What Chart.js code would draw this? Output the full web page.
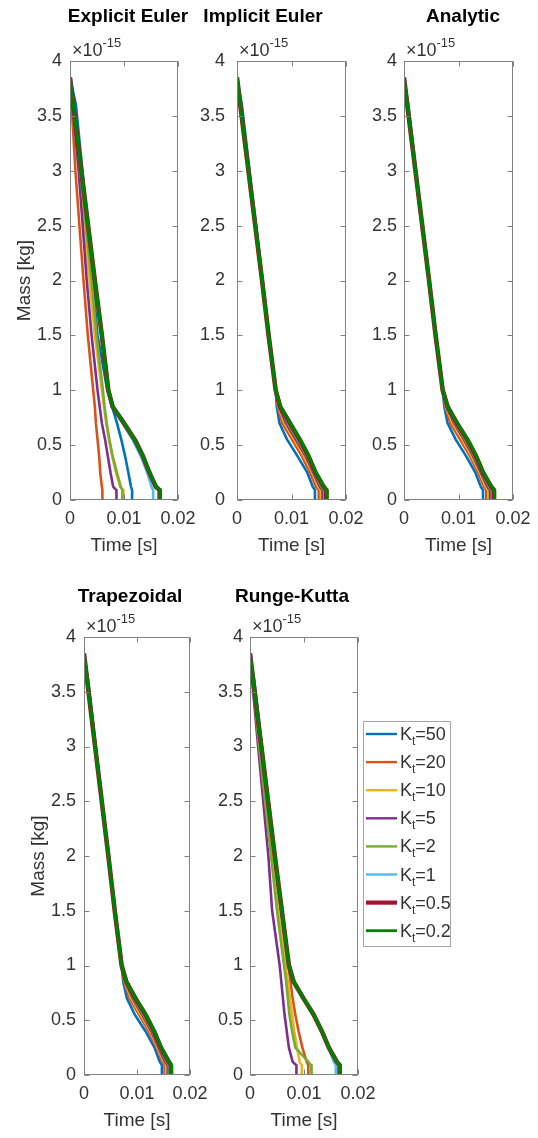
<!DOCTYPE html>
<html>
<head>
<meta charset="utf-8">
<script src="https://cdn.jsdelivr.net/npm/chart.js@4.4.1/dist/chart.umd.min.js"></script>
<style>
  html, body { margin: 0; padding: 0; background: #fff; overflow: hidden; }
  #fig { position: relative; width: 538px; height: 1138px; }
  #fig canvas { position: absolute; }
</style>
</head>
<body>
<div id="fig"></div>
<script>
/* ---------------- DATA ---------------- */
const panelTitles = ["Explicit Euler", "Implicit Euler", "Analytic", "Trapezoidal", "Runge-Kutta"];
const ktLabels    = ["50", "20", "10", "5", "2", "1", "0.5", "0.2"];
const xTicks      = [0, 0.01, 0.02];
const yTicks      = [0, 0.5, 1, 1.5, 2, 2.5, 3, 3.5, 4];

// mass levels (x1e-15 kg) at which the time of each curve is read
const massLevels = [3.85, 3.6, 3.0, 2.0, 1.5, 1.0, 0.85, 0.7, 0.55, 0.4, 0.25, 0.12, 0.09, 0];

// time [s] for each Kt curve, order: 50, 20, 10, 5, 2, 1, 0.5, 0.2
const explicitEulerT = [
  [0, 0.0011, 0.0023, 0.0042, 0.0051, 0.0069, 0.0078, 0.0087, 0.0095, 0.0102, 0.0108, 0.0113, 0.0115, 0.0115],
  [0, 0.0003, 0.0010, 0.0025, 0.0033, 0.0043, 0.0046, 0.0048, 0.0051, 0.0054, 0.0056, 0.0059, 0.0060, 0.0060],
  [0, 0.0005, 0.0017, 0.0036, 0.0046, 0.0059, 0.0063, 0.0067, 0.0072, 0.0078, 0.0085, 0.0093, 0.0099, 0.0099],
  [0, 0.0005, 0.0016, 0.0031, 0.0040, 0.0051, 0.0055, 0.0059, 0.0065, 0.0070, 0.0075, 0.0080, 0.0086, 0.0086],
  [0, 0.0006, 0.0019, 0.0040, 0.0049, 0.0061, 0.0064, 0.0068, 0.0073, 0.0079, 0.0087, 0.0094, 0.0097, 0.0097],
  [0, 0.0006, 0.0021, 0.0046, 0.0059, 0.0071, 0.0079, 0.0097, 0.0116, 0.0131, 0.0143, 0.0151, 0.0154, 0.0154],
  [0, 0.0006, 0.0021, 0.0046, 0.0059, 0.0071, 0.0079, 0.0100, 0.0120, 0.0135, 0.0147, 0.0159, 0.0166, 0.0166],
  [0, 0.0006, 0.0021, 0.0046, 0.0059, 0.0071, 0.0079, 0.0100, 0.0120, 0.0135, 0.0147, 0.0160, 0.0167, 0.0167]
];
const implicitEulerT = [
  [0, 0.0009, 0.0023, 0.0047, 0.0059, 0.0071, 0.0073, 0.0078, 0.0092, 0.0111, 0.0129, 0.0139, 0.0143, 0.0143],
  [0, 0.0007, 0.0022, 0.0046, 0.0058, 0.0071, 0.0075, 0.0083, 0.0101, 0.0119, 0.0134, 0.0145, 0.0150, 0.0150],
  [0, 0.0006, 0.0021, 0.0046, 0.0058, 0.0071, 0.0076, 0.0087, 0.0105, 0.0123, 0.0138, 0.0149, 0.0154, 0.0154],
  [0, 0.0006, 0.0021, 0.0046, 0.0058, 0.0071, 0.0077, 0.0090, 0.0108, 0.0126, 0.0140, 0.0152, 0.0157, 0.0157],
  [0, 0.0006, 0.0021, 0.0046, 0.0058, 0.0071, 0.0078, 0.0093, 0.0111, 0.0128, 0.0142, 0.0155, 0.0160, 0.0160],
  [0, 0.0006, 0.0021, 0.0046, 0.0058, 0.0071, 0.0079, 0.0095, 0.0113, 0.0130, 0.0143, 0.0157, 0.0162, 0.0162],
  [0, 0.0006, 0.0021, 0.0046, 0.0058, 0.0071, 0.0079, 0.0097, 0.0115, 0.0131, 0.0144, 0.0159, 0.0164, 0.0164],
  [0, 0.0006, 0.0021, 0.0046, 0.0058, 0.0071, 0.0080, 0.0098, 0.0116, 0.0132, 0.0145, 0.0160, 0.0165, 0.0165]
];
const analyticT = [
  [0, 0.0008, 0.0022, 0.0046, 0.0058, 0.0071, 0.0074, 0.0080, 0.0095, 0.0114, 0.0131, 0.0141, 0.0145, 0.0145],
  [0, 0.0007, 0.0021, 0.0046, 0.0058, 0.0071, 0.0076, 0.0085, 0.0103, 0.0121, 0.0136, 0.0147, 0.0151, 0.0151],
  [0, 0.0006, 0.0021, 0.0046, 0.0058, 0.0071, 0.0077, 0.0089, 0.0107, 0.0124, 0.0139, 0.0150, 0.0155, 0.0155],
  [0, 0.0006, 0.0021, 0.0046, 0.0058, 0.0071, 0.0078, 0.0092, 0.0110, 0.0127, 0.0141, 0.0153, 0.0158, 0.0158],
  [0, 0.0006, 0.0021, 0.0046, 0.0058, 0.0071, 0.0079, 0.0094, 0.0112, 0.0129, 0.0143, 0.0156, 0.0161, 0.0161],
  [0, 0.0006, 0.0021, 0.0046, 0.0058, 0.0071, 0.0079, 0.0096, 0.0114, 0.0131, 0.0144, 0.0158, 0.0163, 0.0163],
  [0, 0.0006, 0.0021, 0.0046, 0.0058, 0.0071, 0.0080, 0.0097, 0.0116, 0.0132, 0.0145, 0.0160, 0.0165, 0.0165],
  [0, 0.0006, 0.0021, 0.0046, 0.0058, 0.0071, 0.0080, 0.0098, 0.0117, 0.0133, 0.0146, 0.0161, 0.0166, 0.0166]
];
const trapezoidalT = [
  [0, 0.0008, 0.0022, 0.0046, 0.0058, 0.0071, 0.0074, 0.0081, 0.0096, 0.0116, 0.0133, 0.0143, 0.0147, 0.0147],
  [0, 0.0007, 0.0021, 0.0046, 0.0058, 0.0071, 0.0076, 0.0086, 0.0104, 0.0122, 0.0137, 0.0148, 0.0152, 0.0152],
  [0, 0.0006, 0.0021, 0.0046, 0.0058, 0.0071, 0.0077, 0.0089, 0.0107, 0.0125, 0.0139, 0.0151, 0.0155, 0.0155],
  [0, 0.0006, 0.0021, 0.0046, 0.0058, 0.0071, 0.0078, 0.0092, 0.0110, 0.0127, 0.0141, 0.0153, 0.0158, 0.0158],
  [0, 0.0006, 0.0021, 0.0046, 0.0058, 0.0071, 0.0079, 0.0094, 0.0112, 0.0129, 0.0143, 0.0156, 0.0160, 0.0160],
  [0, 0.0006, 0.0021, 0.0046, 0.0058, 0.0071, 0.0079, 0.0096, 0.0114, 0.0131, 0.0144, 0.0158, 0.0162, 0.0162],
  [0, 0.0006, 0.0021, 0.0046, 0.0058, 0.0071, 0.0080, 0.0097, 0.0116, 0.0132, 0.0145, 0.0160, 0.0164, 0.0164],
  [0, 0.0006, 0.0021, 0.0046, 0.0058, 0.0071, 0.0080, 0.0098, 0.0117, 0.0133, 0.0146, 0.0161, 0.0165, 0.0165]
];
const rungeKuttaT = [
  [0, 0.0008, 0.0022, 0.0046, 0.0059, 0.0072, 0.0081, 0.0099, 0.0118, 0.0133, 0.0146, 0.0160, 0.0165, 0.0165],
  [0, 0.0006, 0.0020, 0.0044, 0.0057, 0.0071, 0.0075, 0.0079, 0.0084, 0.0090, 0.0097, 0.0105, 0.0108, 0.0108],
  [0, 0.0005, 0.0018, 0.0040, 0.0052, 0.0066, 0.0070, 0.0074, 0.0078, 0.0082, 0.0087, 0.0092, 0.0096, 0.0096],
  [0, 0.0004, 0.0015, 0.0034, 0.0041, 0.0055, 0.0058, 0.0061, 0.0064, 0.0068, 0.0072, 0.0079, 0.0086, 0.0086],
  [0, 0.0005, 0.0017, 0.0039, 0.0050, 0.0063, 0.0067, 0.0070, 0.0073, 0.0078, 0.0084, 0.0108, 0.0113, 0.0114],
  [0, 0.0006, 0.0021, 0.0046, 0.0059, 0.0072, 0.0081, 0.0099, 0.0118, 0.0133, 0.0146, 0.0155, 0.0159, 0.0159],
  [0, 0.0006, 0.0021, 0.0046, 0.0059, 0.0072, 0.0081, 0.0099, 0.0118, 0.0133, 0.0146, 0.0161, 0.0166, 0.0166],
  [0, 0.0006, 0.0021, 0.0046, 0.0059, 0.0072, 0.0081, 0.0099, 0.0118, 0.0133, 0.0146, 0.0161, 0.0167, 0.0167]
];
const panelTimes = [explicitEulerT, implicitEulerT, analyticT, trapezoidalT, rungeKuttaT];

/* --------------- STYLE ---------------- */
const seriesColors = ["#0072BD", "#D95319", "#EDB120", "#7E2F8E", "#77AC30", "#4DBEEE", "#A2142F", "#008000"];
const seriesWidths = [2.6, 2.6, 2.6, 2.6, 2.6, 2.6, 4.6, 3.4];
const legendWidths = [2.4, 2.4, 2.4, 2.4, 2.4, 2.4, 4.2, 2.8];
const FONT   = "'Liberation Sans', Arial, Helvetica, sans-serif";
const AXIS_C = "#808080";
const TEXT_C = "#333333";

// page position of each plot box
const frames = [
  { plotL: 70,  plotR: 178, plotT: 61,  plotB: 500,  axisW: 70, tickGap: 8,  titleX: 128, titleGap: 39, yTitle: true },
  { plotL: 237, plotR: 346, plotT: 61,  plotB: 500,  axisW: 57, tickGap: 12, titleX: 263, titleGap: 39 },
  { plotL: 404, plotR: 513, plotT: 61,  plotB: 500,  axisW: 57, tickGap: 7,  titleX: 463, titleGap: 39 },
  { plotL: 84,  plotR: 190, plotT: 637, plotB: 1075, axisW: 84, tickGap: 8,  titleX: 130, titleGap: 35, yTitle: true },
  { plotL: 250, plotR: 358, plotT: 637, plotB: 1075, axisW: 57, tickGap: 7,  titleX: 292, titleGap: 35, legend: true }
];

Chart.defaults.font.family = FONT;
Chart.defaults.color = TEXT_C;

/* ---------- box, inward ticks, title, exponent ---------- */
const matlabAxes = {
  id: "matlabAxes",
  afterDatasetsDraw(chart, args, opts) {
    const { ctx, chartArea: a, scales: { x, y } } = chart;
    const L = Math.round(a.left) + 0.5, R = Math.round(a.right) - 0.5;
    const T = Math.round(a.top) + 0.5,  B = Math.round(a.bottom) - 0.5;
    ctx.save();
    ctx.strokeStyle = AXIS_C;
    ctx.lineWidth = 1;
    ctx.strokeRect(L, T, R - L, B - T);
    ctx.beginPath();
    xTicks.forEach(v => {
      const px = Math.round(x.getPixelForValue(v)) + 0.5;
      ctx.moveTo(px, B); ctx.lineTo(px, B - 5);
      ctx.moveTo(px, T); ctx.lineTo(px, T + 5);
    });
    yTicks.forEach(v => {
      const py = Math.round(y.getPixelForValue(v)) + 0.5;
      ctx.moveTo(L, py); ctx.lineTo(L + 5, py);
      ctx.moveTo(R, py); ctx.lineTo(R - 5, py);
    });
    ctx.stroke();

    // title
    ctx.fillStyle = "#000";
    ctx.font = `bold 19px ${FONT}`;
    ctx.textAlign = "center";
    ctx.textBaseline = "alphabetic";
    ctx.fillText(opts.title, opts.titleX, a.top - opts.titleGap);

    // x10^-15 exponent
    ctx.fillStyle = TEXT_C;
    ctx.textAlign = "left";
    ctx.font = `18px ${FONT}`;
    const base = "\u00d710";
    ctx.fillText(base, a.left + 2, a.top - 5);
    const w = ctx.measureText(base).width;
    ctx.font = `13px ${FONT}`;
    ctx.fillText("-15", a.left + 2 + w, a.top - 14);
    ctx.restore();
  }
};

/* ---------- legend with K_t subscripts ---------- */
const ktLegend = {
  id: "ktLegend",
  afterDraw(chart, args, opts) {
    if (!opts.show) return;
    const { ctx, chartArea: a } = chart;
    const left = Math.round(a.right) + 5, top = Math.round(a.top) + 84;
    const w = 88, h = 226, step = 28.1;
    ctx.save();
    ctx.fillStyle = "#fff";
    ctx.fillRect(left, top, w, h);
    ctx.strokeStyle = "#a6a6a6";
    ctx.lineWidth = 1;
    ctx.strokeRect(left + 0.5, top + 0.5, w - 1, h - 1);
    chart.data.datasets.forEach((ds, i) => {
      const cy = top + 13 + i * step;
      ctx.strokeStyle = ds.borderColor;
      ctx.lineWidth = legendWidths[i];
      ctx.beginPath();
      ctx.moveTo(left + 3, cy);
      ctx.lineTo(left + 34, cy);
      ctx.stroke();
      ctx.fillStyle = TEXT_C;
      ctx.textBaseline = "alphabetic";
      ctx.textAlign = "left";
      let tx = left + 37;
      const by = cy + 6;
      ctx.font = `18px ${FONT}`;
      ctx.fillText("K", tx, by);
      tx += ctx.measureText("K").width;
      ctx.font = `12px ${FONT}`;
      ctx.fillText("t", tx, by + 5);
      tx += ctx.measureText("t").width;
      ctx.font = `18px ${FONT}`;
      ctx.fillText("=" + ktLabels[i], tx, by);
    });
    ctx.restore();
  }
};

/* ---------------- BUILD ---------------- */
const fig = document.getElementById("fig");

frames.forEach((f, p) => {
  const left   = f.plotL - f.axisW;
  const top    = f.plotT - 61;
  const width  = (f.legend ? 538 : f.plotR + 30) - left;
  const height = f.plotB - f.plotT + 61 + 65;

  const cv = document.createElement("canvas");
  cv.width = width; cv.height = height;
  cv.style.left = left + "px"; cv.style.top = top + "px";
  cv.style.width = width + "px"; cv.style.height = height + "px";
  fig.appendChild(cv);

  const datasets = panelTimes[p].map((times, i) => ({
    label: "Kt=" + ktLabels[i],
    data: times.map((t, k) => ({ x: t, y: massLevels[k] })),
    borderColor: seriesColors[i],
    borderWidth: seriesWidths[i],
    pointRadius: 0,
    tension: 0,
    borderJoinStyle: "round",
    order: ktLabels.length - i
  }));

  new Chart(cv, {
    type: "line",
    data: { datasets },
    options: {
      responsive: false,
      animation: false,
      events: [],
      layout: { padding: { left: 0, top: 61, right: width - (f.plotR - left), bottom: 5 } },
      plugins: {
        legend: { display: false },
        tooltip: { enabled: false },
        matlabAxes: { title: panelTitles[p], titleX: f.titleX - left, titleGap: f.titleGap },
        ktLegend: { show: !!f.legend }
      },
      scales: {
        x: {
          type: "linear", min: 0, max: 0.02,
          afterBuildTicks: s => { s.ticks = xTicks.map(v => ({ value: v })); },
          afterFit: s => { s.height = 60; },
          ticks: { autoSkip: false, maxRotation: 0, padding: 8, color: TEXT_C,
                   font: { size: 18 }, callback: v => String(v) },
          grid: { display: false, drawTicks: false },
          border: { display: false },
          title: { display: true, text: "Time [s]", color: TEXT_C,
                   font: { size: 19 }, padding: { top: 0, bottom: 3 } }
        },
        y: {
          min: 0, max: 4,
          afterBuildTicks: s => { s.ticks = yTicks.map(v => ({ value: v })); },
          afterFit: s => { s.width = f.axisW; },
          ticks: { autoSkip: false, padding: f.tickGap, color: TEXT_C,
                   font: { size: 18 }, callback: v => String(v) },
          grid: { display: false, drawTicks: false },
          border: { display: false },
          title: { display: !!f.yTitle, text: "Mass [kg]", color: TEXT_C,
                   font: { size: 19 }, padding: { top: f.axisW - 45 - 11.4, bottom: 0 } }
        }
      }
    },
    plugins: [matlabAxes, ktLegend]
  });
});
</script>
</body>
</html>
